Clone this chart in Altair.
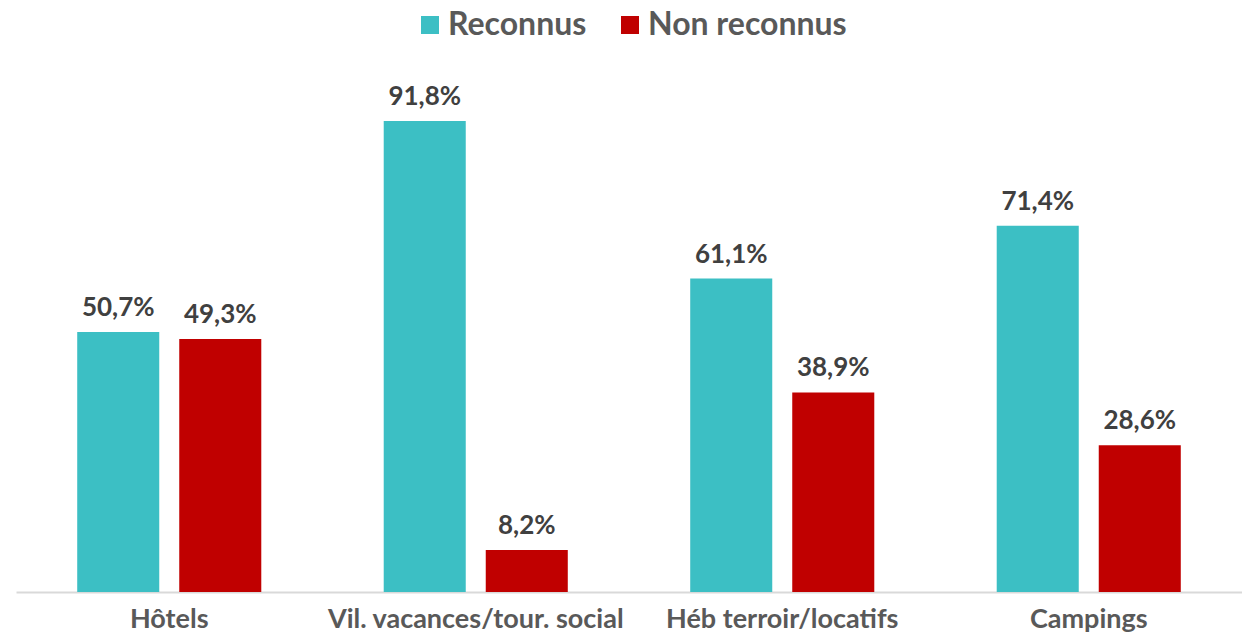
import altair as alt
import pandas as pd

categories = ["Hôtels", "Vil. vacances/tour. social", "Héb terroir/locatifs", "Campings"]
series = ["Reconnus", "Non reconnus"]
reconnus = [50.7, 91.8, 61.1, 71.4]
non_reconnus = [49.3, 8.2, 38.9, 28.6]
colors = ["#3CBFC4", "#C00000"]

rows = []
for c, a, b in zip(categories, reconnus, non_reconnus):
    rows.append({"cat": c, "serie": series[0], "val": a, "lab": f"{a:.1f}%".replace(".", ",")})
    rows.append({"cat": c, "serie": series[1], "val": b, "lab": f"{b:.1f}%".replace(".", ",")})
df = pd.DataFrame(rows)

FONT = "Lato"

x = alt.X("cat:N", sort=categories, title=None,
          scale=alt.Scale(paddingInner=0, paddingOuter=0),
          axis=alt.Axis(labelFont=FONT, labelFontSize=27, labelFontWeight="bold",
                        labelColor="#595959", labelAngle=0, ticks=False,
                        domainColor="#D9D9D9", domainWidth=2, labelPadding=14,
                        labelLimit=400))
xo = alt.XOffset("serie:N", sort=series,
                 scale=alt.Scale(paddingInner=0.196, paddingOuter=0.6))
y = alt.Y("val:Q", scale=alt.Scale(domain=[0, 100], nice=False), axis=None)

bars = alt.Chart(df).mark_bar().encode(
    x=x, xOffset=xo, y=y,
    color=alt.Color("serie:N", sort=series,
                    scale=alt.Scale(domain=series, range=colors),
                    legend=alt.Legend(title=None, orient="none", direction="horizontal",
                                      legendX=398, legendY=-70, padding=0,
                                      symbolType="square", symbolSize=324,
                                      symbolStrokeWidth=0, symbolOpacity=1,
                                      labelFont=FONT, labelFontSize=32,
                                      labelFontWeight="bold", labelColor="#595959",
                                      labelOffset=2, columnPadding=27,
                                      labelLimit=500)),
)

texts = alt.Chart(df).mark_text(
    font=FONT, fontSize=26, fontWeight="bold", color="#404040",
    baseline="alphabetic", dy=-16,
).encode(x=x, xOffset=xo, y=y, text="lab:N")

chart = (bars + texts).properties(
    width=1226, height=513,
    autosize=alt.AutoSizeParams(type="none"),
    padding={"left": 8, "top": 71, "right": 0, "bottom": 41},
).configure(background="white").configure_view(strokeWidth=0, stroke="transparent")

chart.save("out.html", embed_options={"renderer": "svg", "actions": False})
